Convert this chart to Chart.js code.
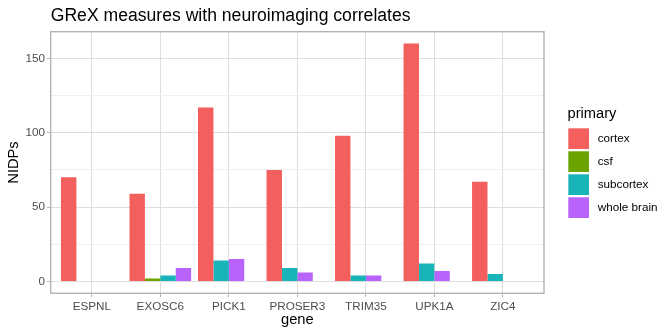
<!DOCTYPE html>
<html><head><meta charset="utf-8">
<script src="https://cdn.jsdelivr.net/npm/chart.js@4.4.1/dist/chart.umd.min.js"></script>
<style>html,body{margin:0;padding:0;background:#fff}#wrap{width:672px;height:336px;position:relative}</style>
</head><body><div id="wrap"><canvas id="c"></canvas></div>
<script>
// ---- data ----
const genes = ['ESPNL','EXOSC6','PICK1','PROSER3','TRIM35','UPK1A','ZIC4'];
const seriesNames = ['cortex','csf','subcortex','whole brain'];
const seriesColors = ['#F35F5C','#6BA300','#19B4B8','#B863FC'];
const cortex     = [70, 59, 117, 75, 98, 160, 67];
const csf        = [null, 2, null, null, null, null, null];
const subcortex  = [null, 4, 14, 9, 4, 12, 5];
const wholeBrain = [null, 9, 15, 6, 4, 7, null];
const yMajorTicks = [0, 50, 100, 150];
const yMinorTicks = [25, 75, 125];
const chartTitle = 'GReX measures with neuroimaging correlates';
const xTitle = 'gene';
const yTitle = 'NIDPs';
const legendTitle = 'primary';

const FONT = "'Liberation Sans', Arial, Helvetica, sans-serif";
const series = [cortex, csf, subcortex, wholeBrain];

// position_dodge(preserve = "single"): present bars packed left within each gene group
const slots = [0,1,2,3].map(() => ({data: [], colors: []}));
genes.forEach((g, i) => {
  let k = 0;
  series.forEach((arr, s) => {
    if (arr[i] !== null && arr[i] !== undefined) {
      slots[k].data.push({x: i + 1, y: arr[i]});
      slots[k].colors.push(seriesColors[s]);
      k++;
    }
  });
  for (; k < 4; k++) {
    slots[k].data.push({x: i + 1, y: null});
    slots[k].colors.push('rgba(0,0,0,0)');
  }
});

const datasets = slots.map((sl, k) => ({
  label: 'slot' + k,
  data: sl.data,
  backgroundColor: sl.colors,
  borderWidth: 0,
  categoryPercentage: 0.9,
  barPercentage: 1.0
}));

const decorPlugin = {
  id: 'decor',
  afterDraw(chart) {
    const {ctx, chartArea: a} = chart;
    ctx.save();
    // panel border
    ctx.strokeStyle = '#B3B3B3';
    ctx.lineWidth = 1.4;
    ctx.strokeRect(a.left, a.top, a.right - a.left, a.bottom - a.top);
    // title
    ctx.fillStyle = '#000';
    ctx.font = '17.6px ' + FONT;
    ctx.textBaseline = 'alphabetic';
    ctx.textAlign = 'left';
    ctx.fillText(chartTitle, a.left, 20.7);
    // legend
    const lx = 567.5;
    ctx.font = '14.7px ' + FONT;
    ctx.fillText(legendTitle, lx, 117.5);
    ctx.font = '11.7px ' + FONT;
    ctx.textBaseline = 'middle';
    seriesNames.forEach((n, i) => {
      const y = 128.3 + i * 23;
      ctx.fillStyle = seriesColors[i];
      ctx.fillRect(568.3, y, 20.7, 20.7);
      ctx.fillStyle = '#000';
      ctx.fillText(n, 597.7, y + 10.6);
    });
    ctx.restore();
  }
};

new Chart(document.getElementById('c'), {
  type: 'bar',
  data: { datasets },
  plugins: [decorPlugin],
  options: {
    responsive: true,
    maintainAspectRatio: false,
    devicePixelRatio: 1,
    animation: false,
    layout: { padding: { top: 31.7, right: 128, bottom: 0, left: 0 } },
    plugins: { legend: { display: false }, tooltip: { enabled: false }, title: { display: false } },
    scales: {
      x: {
        type: 'linear',
        offset: false,
        min: 0.4, max: 7.6,
        afterBuildTicks: s => { s.ticks = genes.map((g, i) => ({ value: i + 1 })); },
        afterFit: s => { s.height = 42.7; },
        ticks: {
          autoSkip: false, maxRotation: 0, includeBounds: false,
          callback: v => genes[v - 1],
          color: '#4D4D4D', font: { family: FONT, size: 11.7 }, padding: 2.8
        },
        grid: { offset: false, color: '#DEDEDE', lineWidth: 1, tickColor: '#B3B3B3', tickLength: 3.7, tickWidth: 1 },
        border: { display: false },
        title: { display: true, text: xTitle, color: '#000', font: { family: FONT, size: 14.7 }, padding: { top: 0, bottom: 6.8 } }
      },
      y: {
        min: -8, max: 168,
        afterBuildTicks: s => { s.ticks = yMajorTicks.concat(yMinorTicks).sort((a, b) => a - b).map(v => ({ value: v })); },
        afterFit: s => { s.width = 50.7; },
        ticks: {
          includeBounds: false,
          callback: v => (yMajorTicks.includes(v) ? String(v) : ''),
          color: '#4D4D4D', font: { family: FONT, size: 11.7 }, padding: 2
        },
        grid: {
          color: c => (yMajorTicks.includes(c.tick && c.tick.value) ? '#DEDEDE' : '#EFEFEF'),
          lineWidth: 1,
          tickColor: c => (yMajorTicks.includes(c.tick && c.tick.value) ? '#B3B3B3' : 'rgba(0,0,0,0)'),
          tickLength: 3.7, tickWidth: 1
        },
        border: { display: false },
        title: { display: true, text: yTitle, color: '#000', font: { family: FONT, size: 14.7 }, padding: { top: 4.9, bottom: 0 } }
      }
    }
  }
});
</script></body></html>
